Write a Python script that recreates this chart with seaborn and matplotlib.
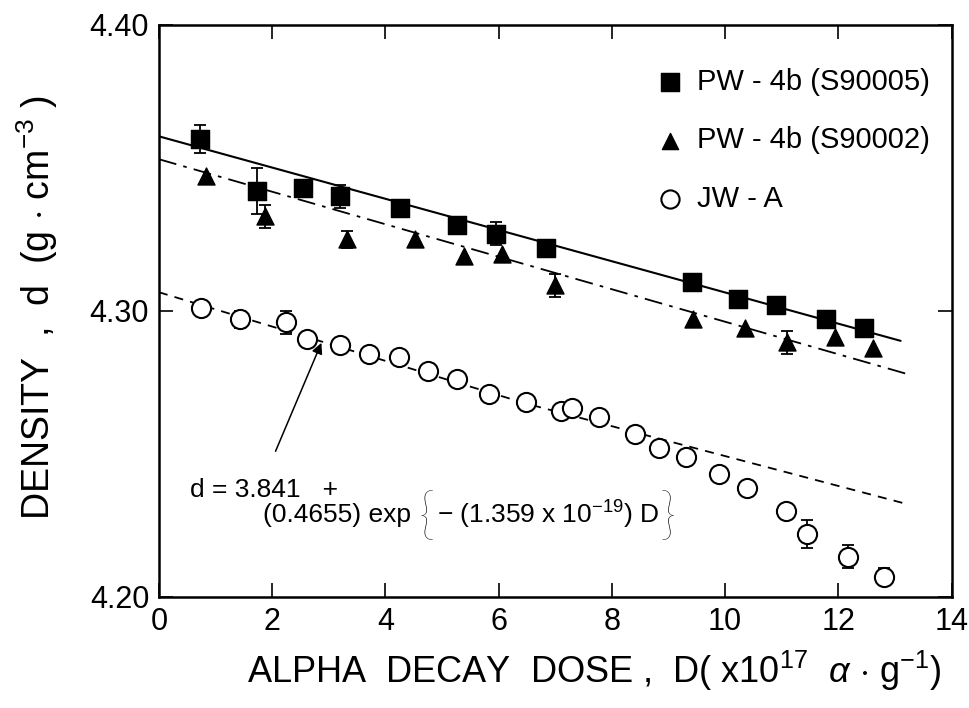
import numpy as np
import pandas as pd
import matplotlib
matplotlib.use("Agg")
import matplotlib.pyplot as plt
import seaborn as sns

# ---- data ----
sq_x = [0.72, 1.73, 2.55, 3.20, 4.26, 5.26, 5.95, 6.83, 9.42, 10.23, 10.90, 11.78, 12.46]
sq_y = [4.360, 4.342, 4.343, 4.340, 4.336, 4.330, 4.327, 4.322, 4.310, 4.304, 4.302, 4.297, 4.294]
sq_err = [0.005, 0.008, 0, 0.004, 0, 0, 0.004, 0, 0, 0, 0, 0, 0]

tr_x = [0.83, 1.87, 3.33, 4.52, 5.39, 6.06, 6.99, 9.44, 10.35, 11.09, 11.95, 12.61]
tr_y = [4.347, 4.333, 4.325, 4.325, 4.319, 4.320, 4.309, 4.297, 4.294, 4.289, 4.291, 4.287]
tr_err = [0, 0.004, 0.003, 0, 0, 0, 0.004, 0, 0, 0.004, 0, 0]

ci_x = [0.74, 1.43, 2.24, 2.62, 3.20, 3.71, 4.24, 4.75, 5.26, 5.83, 6.48, 7.10, 7.29,
        7.78, 8.40, 8.84, 9.31, 9.89, 10.39, 11.07, 11.44, 12.17, 12.80]
ci_y = [4.301, 4.297, 4.296, 4.290, 4.288, 4.285, 4.284, 4.279, 4.276, 4.271, 4.268, 4.265, 4.266,
        4.263, 4.257, 4.252, 4.249, 4.243, 4.238, 4.230, 4.222, 4.214, 4.207]
ci_err = [0, 0.003, 0.004, 0, 0, 0, 0, 0, 0, 0, 0, 0, 0,
          0, 0, 0, 0, 0, 0, 0, 0.005, 0.004, 0.003]

fit_sq_x = [0.0, 13.1]
fit_sq_y = [4.361, 4.2895]
fit_tr_x = [0.0, 13.2]
fit_tr_y = [4.353, 4.278]
fit_ci_x = [0.0, 6.5, 13.2]
fit_ci_y = [4.3065, 4.2675, 4.2325]

labels = ["PW - 4b (S90005)", "PW - 4b (S90002)", "JW - A"]
x_ticks = [0, 2, 4, 6, 8, 10, 12, 14]
y_ticks = [4.20, 4.30, 4.40]

# ---- style ----
sns.set_style("ticks")
FONT = ["Liberation Sans", "DejaVu Sans"]
plt.rcParams["font.family"] = FONT
plt.rcParams["mathtext.fontset"] = "custom"
plt.rcParams["mathtext.rm"] = "Liberation Sans"
plt.rcParams["mathtext.it"] = "Liberation Sans:italic"
plt.rcParams["mathtext.bf"] = "Liberation Sans:bold"
for k in ["text.color", "axes.labelcolor", "xtick.color", "ytick.color", "axes.edgecolor"]:
    plt.rcParams[k] = "black"

fig = plt.figure(figsize=(9.69, 7.08), dpi=100)
ax = fig.add_axes([0.164, 0.157, 0.818, 0.808])

df_sq = pd.DataFrame({"x": sq_x, "y": sq_y, "s": labels[0]})
df_tr = pd.DataFrame({"x": tr_x, "y": tr_y, "s": labels[1]})
df_ci = pd.DataFrame({"x": ci_x, "y": ci_y, "s": labels[2]})

# fit lines
sns.lineplot(x=fit_sq_x, y=fit_sq_y, ax=ax, color="black", lw=1.5, linestyle="-", zorder=1)
sns.lineplot(x=fit_tr_x, y=fit_tr_y, ax=ax, color="black", lw=1.3, zorder=1).lines[-1].set_dashes([10, 4, 2, 4])
sns.lineplot(x=fit_ci_x, y=fit_ci_y, ax=ax, color="black", lw=1.3, zorder=1).lines[-1].set_dashes([5, 4])

# error bars
for xs, ys, es in [(sq_x, sq_y, sq_err), (tr_x, tr_y, tr_err), (ci_x, ci_y, ci_err)]:
    xe = [a for a, e in zip(xs, es) if e > 0]
    ye = [b for b, e in zip(ys, es) if e > 0]
    ee = [e for e in es if e > 0]
    ax.errorbar(xe, ye, yerr=ee, fmt="none", ecolor="black", elinewidth=1.3,
                capsize=4.5, capthick=1.3, zorder=2)

sns.scatterplot(data=df_sq, x="x", y="y", ax=ax, marker="s", s=170, color="black",
                edgecolor="black", label=labels[0], zorder=3)
sns.scatterplot(data=df_tr, x="x", y="y", ax=ax, marker="^", s=150, color="black",
                edgecolor="black", label=labels[1], zorder=3)
sns.scatterplot(data=df_ci, x="x", y="y", ax=ax, marker="o", s=190, facecolor="white",
                edgecolor="black", linewidth=1.5, label=labels[2], zorder=3)

ax.set_xlim(0, 14)
ax.set_ylim(4.20, 4.40)
ax.set_xticks(x_ticks)
ax.set_yticks(y_ticks)
ax.set_yticklabels([f"{v:.2f}" for v in y_ticks])
ax.tick_params(direction="in", length=10, width=1.2, top=True, right=True, labelsize=22, pad=7)
for sp in ax.spines.values():
    sp.set_linewidth(1.8)
    sp.set_color("black")

ax.set_xlabel(r"ALPHA  DECAY  DOSE ,  D( x10$^{17}$  $\alpha$ $\cdot$ g$^{-1}$)", fontsize=26)
ax.xaxis.set_label_coords(0.549, -0.09)
ax.set_ylabel(r"DENSITY  ,  d  (g $\cdot$ cm$^{-3}$ )", fontsize=27)
ax.yaxis.set_label_coords(-0.125, 0.505)

leg = ax.legend(loc="upper left", bbox_to_anchor=(0.627, 0.925), frameon=False, fontsize=21,
                handlelength=1.0, handletextpad=0.4, labelspacing=1.05,
                borderaxespad=0, borderpad=0, markerscale=0.95)

ax.annotate("", xy=(2.87, 4.2888), xytext=(2.06, 4.2509),
            arrowprops=dict(arrowstyle="-|>", color="black", lw=1.1, mutation_scale=16,
                            shrinkA=0, shrinkB=0))
ax.text(0.55, 4.2375, "d = 3.841   +", fontsize=19, va="center", ha="left")
ax.text(1.83, 4.2285, "(0.4655) exp", fontsize=19, va="center", ha="left")
ax.text(4.72, 4.2275, "{", fontsize=40, va="center", ha="center",
        family=["Lato", "DejaVu Sans"], fontweight="light")
ax.text(4.92, 4.2285, r"$-$ (1.359 x 10$^{-19}$) D", fontsize=19, va="center", ha="left")
ax.text(8.98, 4.2275, "}", fontsize=40, va="center", ha="center",
        family=["Lato", "DejaVu Sans"], fontweight="light")

fig.savefig("out.png", dpi=100)
